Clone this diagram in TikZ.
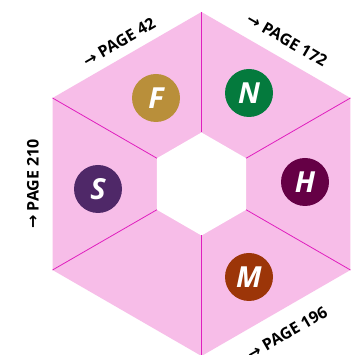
\documentclass[tikz,border=0pt]{standalone}
\usepackage{fontspec}
\usetikzlibrary{calc}
\setmainfont{Open Sans}
\newfontfamily\arrowfont{DejaVu Sans}
\definecolor{hexpink}{HTML}{F7BDE8}
\definecolor{hexline}{HTML}{E01EBE}
\definecolor{cF}{HTML}{B98F3A}
\definecolor{cN}{HTML}{047A3D}
\definecolor{cH}{HTML}{650045}
\definecolor{cM}{HTML}{9C3508}
\definecolor{cS}{HTML}{4F2868}
\tikzset{
  badge/.style={circle, minimum size=48pt, inner sep=0pt, text=white,
    font=\fontsize{29}{29}\selectfont\bfseries\itshape},
  pagelabel/.style={inner sep=0pt, font=\fontsize{16}{16}\selectfont\bfseries},
  divider/.style={draw=hexline, line width=0.8pt}
}
\begin{document}
\begin{tikzpicture}[x=1pt,y=1pt]
\useasboundingbox (0,0) rectangle (359,355);
\fill[white] (0,0) rectangle (359,355);
\coordinate (C) at (201.5,171);
\fill[hexpink] ($(C)+(90:172)$) -- ($(C)+(30:172)$) -- ($(C)+(-30:172)$) -- ($(C)+(-90:172)$) -- ($(C)+(-150:172)$) -- ($(C)+(150:172)$) -- cycle;
\fill[white] ($(C)+(90:51.5)$) -- ($(C)+(30:51.5)$) -- ($(C)+(-30:51.5)$) -- ($(C)+(-90:51.5)$) -- ($(C)+(-150:51.5)$) -- ($(C)+(150:51.5)$) -- cycle;
\foreach \a in {90,30,-30,-90,-150,150}{
  \draw[divider] ($(C)+(\a:51.5)$) -- ($(C)+(\a:172)$);
}
\node[badge, fill=cF] (F) at (156,257) {F};
\node[badge, fill=cN] (N) at (249,262) {N};
\node[badge, fill=cH] (H) at (305,173) {H};
\node[badge, fill=cM] (M) at (249,78) {M};
\node[badge, fill=cS] (S) at (98,166) {S};
\node[pagelabel, rotate=30] (p42) at (119,313) {{\arrowfont →} PAGE 42};
\node[pagelabel, rotate=-30] (p172) at (287,315) {{\arrowfont →} PAGE 172};
\node[pagelabel, rotate=90] (p210) at (33,171) {{\arrowfont →} PAGE 210};
\node[pagelabel, rotate=30] (p196) at (287,22) {{\arrowfont →} PAGE 196};
\end{tikzpicture}
\end{document}
